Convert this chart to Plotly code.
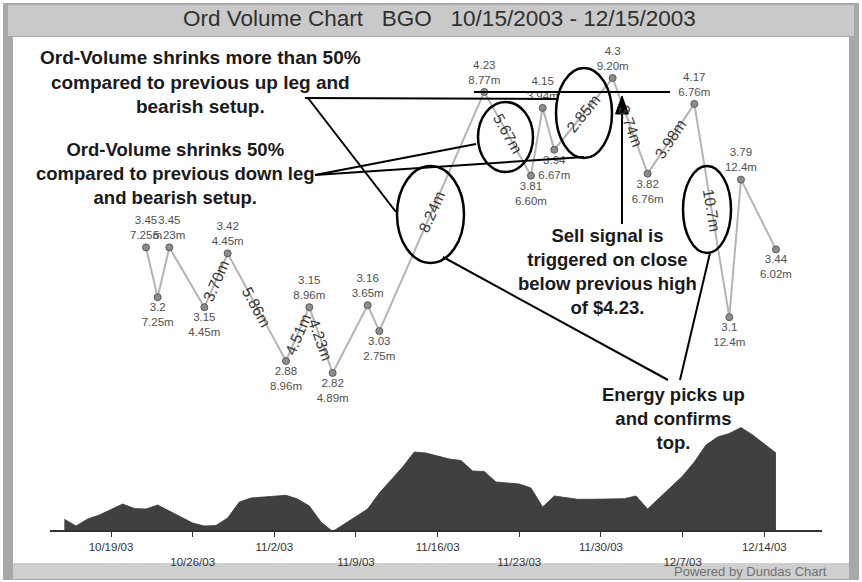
import math
import pandas as pd
import plotly.graph_objects as go

# ---------------- data ----------------
price_dates = ["2003-10-22", "2003-10-23", "2003-10-24", "2003-10-27", "2003-10-29",
               "2003-11-03", "2003-11-05", "2003-11-07", "2003-11-10", "2003-11-11",
               "2003-11-20", "2003-11-24", "2003-11-25", "2003-11-26", "2003-12-01",
               "2003-12-04", "2003-12-08", "2003-12-11", "2003-12-12", "2003-12-15"]
prices = [3.45, 3.2, 3.45, 3.15, 3.42, 2.88, 3.15, 2.82, 3.16, 3.03,
          4.23, 3.81, 4.15, 3.94, 4.3, 3.82, 4.17, 3.1, 3.79, 3.44]
volumes = ["7.25m", "7.25m", "5.23m", "4.45m", "4.45m", "8.96m", "8.96m", "4.89m", "3.65m", "2.75m",
           "8.77m", "6.60m", "3.94m", "6.67m", "9.20m", "6.76m", "6.76m", "12.4m", "12.4m", "6.02m"]

leg_start_index = [3, 4, 5, 6, 9, 10, 13, 14, 15, 16]
leg_volumes = ["3.70m", "5.86m", "4.51m", "4.23m", "8.24m", "5.67m", "2.85m", "3.74m", "3.98m", "10.7m"]

energy_dates = list(pd.date_range("2003-10-15", "2003-12-15", freq="D"))
energy = [10.7, 4, 11, 15, 20.5, 26, 21.5, 21, 25, 19, 13, 7, 4, 4.5, 12, 28, 32,
          33, 34, 34.7, 31, 24, 8, -1.5, 6, 13.5, 21, 37, 50, 63, 78, 77, 74, 71, 69.5,
          59, 58.5, 48, 47, 46, 42, 23, 34, 32, 30.7, 30.7, 30.7,
          31, 31.3, 34, 21, 32, 43, 54, 68, 85, 93, 96.5, 102.5, 95, 86, 77]

tick_dates = ["2003-10-19", "2003-10-26", "2003-11-02", "2003-11-09", "2003-11-16",
              "2003-11-23", "2003-11-30", "2003-12-07", "2003-12-14"]
tick_labels = ["10/19/03", "10/26/03", "11/2/03", "11/9/03", "11/16/03",
               "11/23/03", "11/30/03", "12/7/03", "12/14/03"]

title_text = "Ord Volume Chart   BGO   10/15/2003 - 12/15/2003"

# ---------------- layout geometry ----------------
W, H = 862, 582
REF_DATE = pd.Timestamp("2003-10-19")
REF_PX = 111
PX_PER_DAY = 11.666
X_PX = (50, 822)

def px_to_date(px):
    return REF_DATE + pd.Timedelta(days=(px - REF_PX) / PX_PER_DAY)

PRICE_ANCHOR, PRICE_ANCHOR_PX, PX_PER_DOLLAR = 4.3, 78, 199.3
PRICE_PX = (40, 420)
price_range = [PRICE_ANCHOR - (PRICE_PX[1] - PRICE_ANCHOR_PX) / PX_PER_DOLLAR,
               PRICE_ANCHOR + (PRICE_ANCHOR_PX - PRICE_PX[0]) / PX_PER_DOLLAR]
ENERGY_PX = (420, 530)
energy_range = [0, ENERGY_PX[1] - ENERGY_PX[0]]

def fx(px):
    return px / W

def fy(py):
    return 1 - py / H

# ---------------- traces ----------------
text_pos = []
for i, p in enumerate(prices):
    nb = [prices[j] for j in (i - 1, i + 1) if 0 <= j < len(prices)]
    text_pos.append("top center" if all(p > q for q in nb) else "bottom center")

fig = go.Figure()
fig.add_trace(go.Scatter(
    x=energy_dates, y=energy, xaxis="x", yaxis="y2", mode="lines",
    fill="tozeroy", fillcolor="#404040", line=dict(color="#383838", width=0.8),
    hoverinfo="skip", showlegend=False))
fig.add_trace(go.Scatter(
    x=price_dates, y=prices, xaxis="x", yaxis="y", mode="lines+markers+text",
    line=dict(color="#b4b4b4", width=2),
    marker=dict(size=7, color="#8c8c8c", line=dict(color="#5a5a5a", width=1)),
    text=[f"{p:g}<br>{v}" for p, v in zip(prices, volumes)],
    textposition=text_pos, cliponaxis=False,
    textfont=dict(family="Arial", size=11.5, color="#505050"),
    showlegend=False))

annotations = []
# rotated leg volume labels
for i, lab in zip(leg_start_index, leg_volumes):
    d1, d2 = pd.Timestamp(price_dates[i]), pd.Timestamp(price_dates[i + 1])
    p1, p2 = prices[i], prices[i + 1]
    dx = (d2 - d1) / pd.Timedelta(days=1) * PX_PER_DAY
    dy = -(p2 - p1) * PX_PER_DOLLAR
    ang = math.degrees(math.atan2(dy, dx))
    annotations.append(dict(x=d1 + (d2 - d1) / 2, y=(p1 + p2) / 2, xref="x", yref="y",
                            text=lab, textangle=ang, showarrow=False,
                            font=dict(family="Arial", size=15.5, color="#383838")))

def note(xp, yp, text, size, **kw):
    return dict(x=fx(xp), y=fy(yp), xref="paper", yref="paper", showarrow=False,
                xanchor=kw.pop("xanchor", "center"), yanchor="middle", align="center",
                text=text, font=dict(family="Arial", size=size, color=kw.pop("color", "#1a1a1a"),
                                     weight=kw.pop("weight", "bold")))

annotations += [
    note(439, 18, title_text, 22.5, color="#303030", weight="normal"),
    note(200, 82, "Ord-Volume shrinks more than 50%<br>compared to previous up leg and<br>bearish setup.", 19),
    note(175, 173, "Ord-Volume shrinks 50%<br>compared to previous down leg<br>and bearish setup.", 18.5),
    note(607, 271, "Sell signal is<br>triggered on close<br>below previous high<br>of $4.23.", 18.5),
    note(673, 418, "Energy picks up<br>and confirms<br>top.", 18.5),
    note(829, 571, "Powered by Dundas Chart", 13, xanchor="right", color="#707070", weight="normal"),
]

shapes = [
    # frame
    dict(type="rect", xref="paper", yref="paper", x0=fx(3), x1=fx(859), y0=fy(580), y1=fy(3),
         fillcolor="#a8a8a8", line=dict(width=0), layer="below"),
    dict(type="rect", xref="paper", yref="paper", x0=fx(8), x1=fx(854), y0=fy(36), y1=fy(5),
         fillcolor="#c9c9c9", line=dict(width=0), layer="below"),
    dict(type="rect", xref="paper", yref="paper", x0=fx(13), x1=fx(849), y0=fy(563), y1=fy(37),
         fillcolor="#ffffff", line=dict(width=0), layer="below"),
    dict(type="rect", xref="paper", yref="paper", x0=fx(13), x1=fx(849), y0=fy(579), y1=fy(563),
         fillcolor="#cfcfcf", line=dict(width=0), layer="below"),
]
black = dict(color="#000000", width=2.5)
for (x0, y0, x1, y1) in [(397, 166, 464, 263), (478, 102, 533, 172),
                         (556, 68, 612, 158), (683, 166, 731, 253)]:
    shapes.append(dict(type="circle", xref="paper", yref="paper",
                       x0=fx(x0), x1=fx(x1), y0=fy(y1), y1=fy(y0), line=black))
thin = dict(color="#000000", width=2)
for (x0, y0, x1, y1) in [(305, 98, 557, 99), (308, 98, 396, 212),
                         (315, 175, 476, 144), (315, 175, 584, 157),
                         (443, 257, 668, 380), (680, 380, 710, 253),
                         (622, 224, 622, 110)]:
    shapes.append(dict(type="line", xref="paper", yref="paper",
                       x0=fx(x0), y0=fy(y0), x1=fx(x1), y1=fy(y1), line=thin))
# previous-high level line at $4.23
shapes.append(dict(type="line", xref="x", yref="y", x0=px_to_date(474), x1=px_to_date(670),
                   y0=4.23, y1=4.23, line=thin))
# arrow head
shapes.append(dict(type="path", xref="paper", yref="paper",
                   path=f"M {fx(615.5)},{fy(114)} L {fx(628.5)},{fy(114)} L {fx(622)},{fy(96)} Z",
                   fillcolor="#000000", line=dict(color="#000000", width=1)))

fig.update_layout(
    width=W, height=H, margin=dict(l=0, r=0, t=0, b=0),
    paper_bgcolor="#ffffff", plot_bgcolor="rgba(0,0,0,0)",
    showlegend=False,
    xaxis=dict(domain=[fx(X_PX[0]), fx(X_PX[1])], range=[px_to_date(X_PX[0]), px_to_date(X_PX[1])],
               type="date", anchor="y2", showgrid=False, zeroline=False,
               showline=True, linecolor="#333333", linewidth=1.5,
               ticks="outside", ticklen=5, tickwidth=1.2, tickcolor="#333333",
               tickvals=tick_dates,
               ticktext=[t if k % 2 == 0 else "<br>" + t for k, t in enumerate(tick_labels)],
               tickfont=dict(family="Arial", size=11.5, color="#333333")),
    yaxis=dict(domain=[fy(PRICE_PX[1]), fy(PRICE_PX[0])], range=price_range, anchor="x",
               visible=False, showgrid=False, zeroline=False),
    yaxis2=dict(domain=[fy(ENERGY_PX[1]), fy(ENERGY_PX[0])], range=energy_range, anchor="x",
                visible=False, showgrid=False, zeroline=False),
    annotations=annotations, shapes=shapes,
)

fig.write_html("out.html", config={"displayModeBar": False},
               post_script="document.body.style.margin='0';document.body.style.overflow='hidden';")
